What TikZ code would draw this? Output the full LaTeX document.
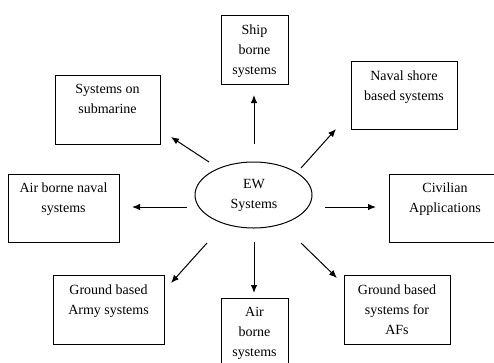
\documentclass[tikz,border=0pt]{standalone}
\usepackage{fontspec}
\setmainfont{Liberation Serif}
\usetikzlibrary{shapes.geometric,arrows.meta}
\begin{document}
\begin{tikzpicture}[x=1pt,y=-1pt,
  box/.style={draw, line width=1pt, inner sep=0pt},
  lbl/.style={font=\fontsize{14}{20}\selectfont, align=center, inner sep=0pt, anchor=north},
  arr/.style={line width=1pt, -{Latex[length=8pt,width=6.5pt]}}]
\useasboundingbox (0,0) rectangle (494,362);
% boxes
\node[box, minimum width=67pt, minimum height=69pt] (ship) at (254.5,49.5) {};
\node[box, minimum width=105pt, minimum height=69pt] (sub) at (107.5,109.5) {};
\node[box, minimum width=106pt, minimum height=68pt] (shore) at (404,95) {};
\node[box, minimum width=111pt, minimum height=68pt] (abn) at (63.5,208) {};
\node[box, minimum width=112pt, minimum height=68pt] (civ) at (445,208) {};
\node[box, minimum width=111pt, minimum height=69pt] (army) at (108.5,309.5) {};
\node[box, minimum width=67pt, minimum height=72pt] (air) at (254.5,334) {};
\node[box, minimum width=106pt, minimum height=69pt] (afs) at (397,309.5) {};
\node[draw, line width=1pt, ellipse, minimum width=117pt, minimum height=66pt, inner sep=0pt] (ew) at (253.5,195) {};
% labels
\node[lbl] (shipt) at ([yshift=-10pt]ship.north) {Ship\\borne\\systems};
\node[lbl] (subt) at ([yshift=-10pt]sub.north) {Systems on\\submarine};
\node[lbl] (shoret) at ([yshift=-10pt]shore.north) {Naval shore\\based systems};
\node[lbl] (abnt) at ([yshift=-9pt]abn.north) {Air borne naval\\systems};
\node[lbl] (civt) at ([yshift=-9pt]civ.north) {Civilian\\Applications};
\node[lbl] (armyt) at ([yshift=-10pt]army.north) {Ground based\\Army systems};
\node[lbl] (airt) at ([yshift=-10pt]air.north) {Air\\borne\\systems};
\node[lbl] (afst) at ([yshift=-10pt]afs.north) {Ground based\\systems for\\AFs};
\node[lbl, anchor=center] (ewt) at (254,195) {EW\\Systems};
% arrow end points
\coordinate (u0) at (254,144); \coordinate (u1) at (254,95);
\coordinate (ul0) at (209,162); \coordinate (ul1) at (171,137);
\coordinate (ur0) at (301,168); \coordinate (ur1) at (336,129);
\coordinate (l0) at (187,207); \coordinate (l1) at (132,207);
\coordinate (r0) at (325,207); \coordinate (r1) at (376,207);
\coordinate (dl0) at (207,243); \coordinate (dl1) at (171,283);
\coordinate (d0) at (254,242); \coordinate (d1) at (254,293);
\coordinate (dr0) at (301,243); \coordinate (dr1) at (337,278);
\draw[arr] (u0) -- (u1);
\draw[arr] (ul0) -- (ul1);
\draw[arr] (ur0) -- (ur1);
\draw[arr] (l0) -- (l1);
\draw[arr] (r0) -- (r1);
\draw[arr] (dl0) -- (dl1);
\draw[arr] (d0) -- (d1);
\draw[arr] (dr0) -- (dr1);
\end{tikzpicture}
\end{document}
